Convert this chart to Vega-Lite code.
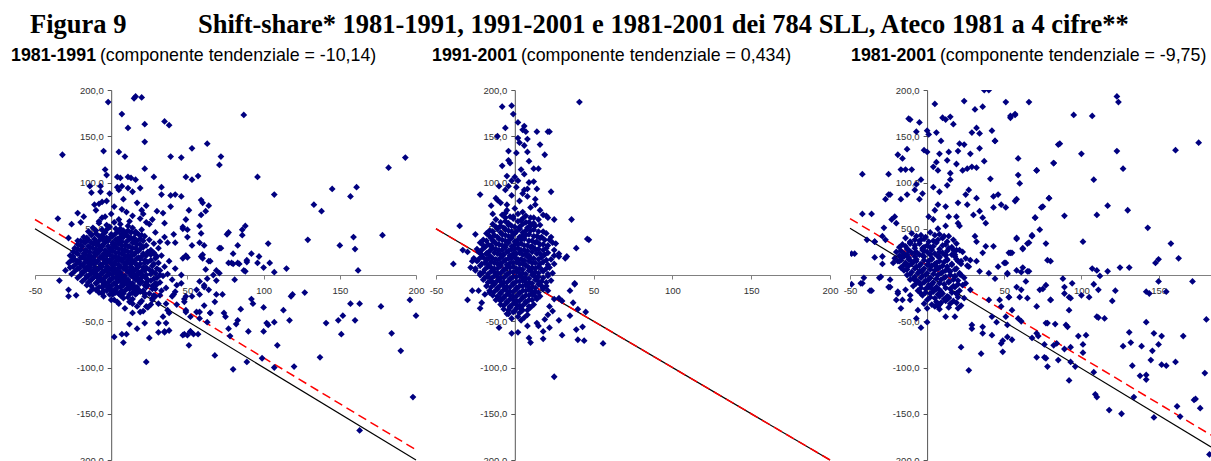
{
  "$schema": "https://vega.github.io/schema/vega-lite/v6.json",
  "background": "white",
  "padding": {"left": 11, "top": 11, "right": 0, "bottom": 0},
  "title": {
    "text": "Figura 9\u2003\u2003\u2002\u2009Shift-share* 1981-1991, 1991-2001 e 1981-2001 dei 784 SLL, Ateco 1981 a 4 cifre**",
    "anchor": "start",
    "frame": "group",
    "dx": -5,
    "font": "Liberation Serif",
    "fontSize": 26.5,
    "fontWeight": "bold",
    "color": "black",
    "offset": 9
  },
  "bounds": "flush",
  "spacing": 20,
  "config": {
    "view": {"stroke": null},
    "axis": {"labelFont": "Liberation Sans", "labelFontSize": 9.5, "labelColor": "#333333", "tickSize": 4, "grid": false, "labelOverlap": false, "labelFlush": false},
    "axisX": {"domainColor": "#808080", "tickColor": "#808080", "labelPadding": 6},
    "axisY": {"domainColor": "#555555", "tickColor": "#555555", "labelPadding": 4},
    "title": {"font": "Liberation Sans", "fontSize": 17.8, "fontWeight": "bold", "color": "black", "subtitleFont": "Liberation Sans", "subtitleFontSize": 17.8, "subtitleFontWeight": "normal", "subtitleColor": "black", "subtitlePadding": -17.8}
  },
  "datasets": {
    "lines1": [
      {"x": -50, "y": 50, "s": "fit"}, {"x": 200, "y": -200, "s": "fit"},
      {"x": -50, "y": 60, "s": "trend"}, {"x": 200, "y": -189, "s": "trend"}
    ],
    "lines2": [
      {"x": -50, "y": 50, "s": "fit"}, {"x": 200, "y": -200, "s": "fit"},
      {"x": -50, "y": 50, "s": "trend"}, {"x": 200, "y": -200, "s": "trend"}
    ],
    "lines3": [
      {"x": -50, "y": 50.5, "s": "fit"}, {"x": 184, "y": -186, "s": "fit"},
      {"x": -50, "y": 61, "s": "trend"}, {"x": 184, "y": -173, "s": "trend"}
    ],
    "p1": [
      {"x":-32,"y":130},{"x":-2,"y":187},{"x":16,"y":193},{"x":20,"y":192},{"x":15,"y":191},{"x":7,"y":174},{"x":22,"y":163},{"x":11,"y":159},{"x":35,"y":166},{"x":38,"y":162},
      {"x":87,"y":173},{"x":-5,"y":134},{"x":5,"y":133},{"x":9,"y":128},{"x":22,"y":144},{"x":63,"y":142},{"x":53,"y":137},{"x":39,"y":128},{"x":46,"y":127},{"x":72,"y":128},
      {"x":71,"y":119},{"x":22,"y":115},{"x":-4,"y":114},{"x":-3,"y":108},{"x":28,"y":106},{"x":49,"y":106},{"x":53,"y":103},{"x":57,"y":107},{"x":96,"y":106},{"x":193,"y":127},
      {"x":182,"y":116},{"x":161,"y":95},{"x":145,"y":93},{"x":157,"y":85},{"x":107,"y":87},{"x":133,"y":76},{"x":138,"y":69},{"x":129,"y":38},{"x":150,"y":32},{"x":159,"y":41},
      {"x":160,"y":28},{"x":178,"y":43},{"x":162,"y":5},{"x":115,"y":7},{"x":107,"y":3},{"x":104,"y":13},{"x":103,"y":34},{"x":100,"y":8},{"x":96,"y":13},{"x":97,"y":20},
      {"x":92,"y":23},{"x":89,"y":14},{"x":88,"y":4},{"x":88,"y":53},{"x":86,"y":49},{"x":86,"y":43},{"x":83,"y":32},{"x":80,"y":23},{"x":79,"y":13},{"x":83,"y":13},
      {"x":77,"y":46},{"x":76,"y":44},{"x":71,"y":29},{"x":72,"y":29},{"x":65,"y":15},{"x":60,"y":22},{"x":61,"y":32},{"x":58,"y":35},{"x":59,"y":45},{"x":58,"y":53},
      {"x":62,"y":69},{"x":64,"y":75},{"x":59,"y":81},{"x":60,"y":78},{"x":59,"y":65},{"x":51,"y":70},{"x":53,"y":32},{"x":49,"y":21},{"x":50,"y":41},{"x":50,"y":49},
      {"x":47,"y":52},{"x":47,"y":50},{"x":49,"y":60},{"x":46,"y":85},{"x":42,"y":87},{"x":39,"y":86},{"x":33,"y":87},{"x":33,"y":95},{"x":39,"y":74},{"x":34,"y":67},
      {"x":30,"y":69},{"x":35,"y":56},{"x":29,"y":46},{"x":41,"y":44},{"x":42,"y":35},{"x":37,"y":35},{"x":35,"y":41},{"x":32,"y":36},{"x":28,"y":23},{"x":27,"y":60},
      {"x":23,"y":75},{"x":23,"y":57},{"x":19,"y":61},{"x":20,"y":70},{"x":19,"y":94},{"x":16,"y":103},{"x":13,"y":105},{"x":11,"y":106},{"x":6,"y":105},{"x":4,"y":106},
      {"x":7,"y":96},{"x":5,"y":92},{"x":11,"y":94},{"x":14,"y":90},{"x":-7,"y":96},{"x":-7,"y":90},{"x":-14,"y":96},{"x":-13,"y":89},{"x":-11,"y":76},{"x":-6,"y":79},
      {"x":-8,"y":77},{"x":-18,"y":63},{"x":-22,"y":67},{"x":-20,"y":57},{"x":-26,"y":55},{"x":-35,"y":61},{"x":-28,"y":40},{"x":-25,"y":16},{"x":-22,"y":37},
      {"x":-34,"y":-6},{"x":-28,"y":-16},{"x":-28,"y":-23},{"x":-23,"y":-22},{"x":-14,"y":-18},{"x":2,"y":-67},{"x":8,"y":-73},{"x":7,"y":-64},{"x":10,"y":-64},{"x":23,"y":-94},
      {"x":25,"y":-68},{"x":31,"y":-62},{"x":35,"y":-62},{"x":38,"y":-60},{"x":47,"y":-65},{"x":51,"y":-76},{"x":52,"y":-61},{"x":54,"y":-64},{"x":57,"y":-64},{"x":68,"y":-87},
      {"x":80,"y":-102},{"x":89,"y":-94},{"x":99,"y":-90},{"x":107,"y":-100},{"x":120,"y":-99},{"x":137,"y":-89},{"x":109,"y":-76},{"x":100,"y":-61},{"x":90,"y":-61},{"x":78,"y":-66},
      {"x":77,"y":-58},{"x":75,"y":-45},{"x":74,"y":-41},{"x":65,"y":-41},{"x":63,"y":-51},{"x":58,"y":-40},{"x":49,"y":-40},{"x":82,"y":-53},{"x":83,"y":-49},{"x":85,"y":-37},
      {"x":92,"y":-26},{"x":93,"y":-31},{"x":100,"y":-35},{"x":102,"y":-52},{"x":103,"y":-54},{"x":107,"y":-51},{"x":113,"y":-38},{"x":117,"y":-49},{"x":118,"y":-23},{"x":119,"y":-21},
      {"x":127,"y":-19},{"x":141,"y":-52},{"x":149,"y":-49},{"x":152,"y":-44},{"x":151,"y":-64},{"x":157,"y":-31},{"x":160,"y":-49},{"x":163,"y":-31},{"x":163,"y":-168},{"x":177,"y":-34},
      {"x":184,"y":-63},{"x":190,"y":-82},{"x":196,"y":-27},{"x":200,"y":-44},{"x":198,"y":-132},
      {"x":58,"y":-7},{"x":63,"y":-4},{"x":61,"y":-11},{"x":69,"y":-21},{"x":73,"y":-21},{"x":68,"y":-29},{"x":58,"y":-21},{"x":53,"y":-23},{"x":56,"y":-16},{"x":48,"y":-29},
      {"x":49,"y":-23},{"x":42,"y":-18},{"x":40,"y":-23},{"x":43,"y":-32},{"x":49,"y":-38},{"x":36,"y":-31},{"x":32,"y":-22},{"x":77,"y":13},{"x":80,"y":12},{"x":84,"y":12},
      {"x":87,"y":5},{"x":89,"y":16},{"x":81,"y":-5},{"x":71,"y":2},{"x":69,"y":5},{"x":62,"y":6},{"x":64,"y":15},{"x":59,"y":20},{"x":60,"y":18},{"x":50,"y":19},{"x":47,"y":18},
      {"x":0,"y":-27},{"x":4,"y":-29},{"x":14,"y":-31},{"x":12,"y":-53},{"x":17,"y":-58},{"x":31,"y":-52},{"x":35,"y":-61},{"x":36,"y":-52},{"x":34,"y":-45},{"x":22,"y":-52},
      {"x":19,"y":-40},{"x":23,"y":-34},{"x":27,"y":-27},{"x":29,"y":-23},{"x":31,"y":-31},{"x":37,"y":-38},{"x":38,"y":-41},{"x":41,"y":-21},{"x":48,"y":-26},{"x":52,"y":-45},
      {"x":56,"y":-40},{"x":58,"y":-47},{"x":65,"y":-41},{"x":61,"y":-33},{"x":61,"y":-13},{"x":64,"y":-16},{"x":67,"y":0},{"x":69,"y":-6},{"x":46,"y":0},{"x":46,"y":-9},{"x":43,"y":-11},
      {"x":52,"y":-61},{"x":48,"y":-64},{"x":50,"y":-65},
      {"x":-8,"y":56},{"x":-3,"y":54},{"x":2,"y":57},{"x":6,"y":55},{"x":11,"y":53},
      {"x":-12,"y":51},{"x":-6,"y":49},{"x":-1,"y":52},{"x":3,"y":50},{"x":8,"y":48},{"x":14,"y":51},{"x":20,"y":49},
      {"x":-15,"y":47},{"x":-10,"y":45},{"x":-4,"y":46},{"x":0,"y":44},{"x":5,"y":47},{"x":9,"y":45},{"x":13,"y":46},{"x":18,"y":44},
      {"x":-18,"y":41},{"x":-13,"y":43},{"x":-8,"y":42},{"x":-3,"y":40},{"x":1,"y":42},{"x":6,"y":41},{"x":10,"y":43},{"x":15,"y":40},{"x":22,"y":42},
      {"x":-20,"y":37},{"x":-15,"y":38},{"x":-10,"y":36},{"x":-6,"y":39},{"x":-2,"y":37},{"x":3,"y":38},{"x":7,"y":36},{"x":12,"y":39},{"x":17,"y":37},{"x":25,"y":38},
      {"x":-22,"y":33},{"x":-17,"y":35},{"x":-12,"y":34},{"x":-8,"y":32},{"x":-4,"y":35},{"x":1,"y":33},{"x":5,"y":34},{"x":9,"y":32},{"x":14,"y":35},{"x":19,"y":33},{"x":28,"y":34},
      {"x":-24,"y":29},{"x":-19,"y":31},{"x":-14,"y":30},{"x":-10,"y":28},{"x":-6,"y":31},{"x":-1,"y":29},{"x":3,"y":30},{"x":7,"y":28},{"x":11,"y":31},{"x":16,"y":29},{"x":21,"y":30},{"x":31,"y":29},
      {"x":-25,"y":25},{"x":-20,"y":27},{"x":-16,"y":26},{"x":-11,"y":24},{"x":-7,"y":27},{"x":-3,"y":25},{"x":1,"y":26},{"x":5,"y":24},{"x":9,"y":27},{"x":13,"y":25},{"x":18,"y":26},{"x":24,"y":25},
      {"x":-27,"y":21},{"x":-22,"y":23},{"x":-17,"y":22},{"x":-13,"y":20},{"x":-9,"y":23},{"x":-5,"y":21},{"x":-1,"y":22},{"x":3,"y":20},{"x":7,"y":23},{"x":11,"y":21},{"x":15,"y":22},{"x":20,"y":20},{"x":26,"y":22},{"x":33,"y":21},
      {"x":-24,"y":17},{"x":-19,"y":19},{"x":-15,"y":18},{"x":-11,"y":16},{"x":-7,"y":19},{"x":-3,"y":17},{"x":1,"y":18},{"x":5,"y":16},{"x":9,"y":19},{"x":13,"y":17},{"x":17,"y":18},{"x":22,"y":16},{"x":29,"y":18},
      {"x":-28,"y":13},{"x":-22,"y":15},{"x":-17,"y":14},{"x":-13,"y":12},{"x":-9,"y":15},{"x":-5,"y":13},{"x":-1,"y":14},{"x":3,"y":12},{"x":7,"y":15},{"x":11,"y":13},{"x":15,"y":14},{"x":19,"y":12},{"x":24,"y":14},{"x":31,"y":13},{"x":38,"y":15},
      {"x":-25,"y":9},{"x":-20,"y":11},{"x":-15,"y":10},{"x":-11,"y":8},{"x":-7,"y":11},{"x":-3,"y":9},{"x":1,"y":10},{"x":5,"y":8},{"x":9,"y":11},{"x":13,"y":9},{"x":17,"y":10},{"x":21,"y":8},{"x":27,"y":10},{"x":35,"y":9},
      {"x":-30,"y":5},{"x":-21,"y":7},{"x":-16,"y":6},{"x":-12,"y":4},{"x":-8,"y":7},{"x":-4,"y":5},{"x":0,"y":6},{"x":4,"y":4},{"x":8,"y":7},{"x":12,"y":5},{"x":16,"y":6},{"x":20,"y":4},{"x":25,"y":6},{"x":32,"y":5},{"x":42,"y":7},
      {"x":-26,"y":1},{"x":-18,"y":3},{"x":-13,"y":2},{"x":-9,"y":0},{"x":-5,"y":3},{"x":-1,"y":1},{"x":3,"y":2},{"x":7,"y":0},{"x":11,"y":3},{"x":15,"y":1},{"x":19,"y":2},{"x":23,"y":0},{"x":29,"y":2},{"x":37,"y":1},
      {"x":-22,"y":-3},{"x":-15,"y":-1},{"x":-11,"y":-2},{"x":-7,"y":-4},{"x":-3,"y":-1},{"x":1,"y":-3},{"x":5,"y":-2},{"x":9,"y":-4},{"x":13,"y":-1},{"x":17,"y":-3},{"x":22,"y":-2},{"x":28,"y":-4},{"x":34,"y":-1},
      {"x":-19,"y":-7},{"x":-13,"y":-5},{"x":-8,"y":-6},{"x":-4,"y":-8},{"x":0,"y":-5},{"x":4,"y":-7},{"x":8,"y":-6},{"x":12,"y":-8},{"x":16,"y":-5},{"x":20,"y":-7},{"x":26,"y":-6},{"x":32,"y":-8},{"x":40,"y":-5},
      {"x":-16,"y":-11},{"x":-10,"y":-9},{"x":-5,"y":-10},{"x":-1,"y":-12},{"x":3,"y":-9},{"x":7,"y":-11},{"x":11,"y":-10},{"x":15,"y":-12},{"x":19,"y":-9},{"x":24,"y":-11},{"x":30,"y":-10},
      {"x":-12,"y":-15},{"x":-6,"y":-13},{"x":-2,"y":-14},{"x":2,"y":-16},{"x":6,"y":-13},{"x":10,"y":-15},{"x":14,"y":-14},{"x":18,"y":-16},{"x":23,"y":-13},{"x":29,"y":-15},{"x":36,"y":-14},
      {"x":-8,"y":-19},{"x":-3,"y":-17},{"x":1,"y":-18},{"x":5,"y":-20},{"x":9,"y":-17},{"x":14,"y":-19},{"x":19,"y":-18},{"x":25,"y":-20},{"x":33,"y":-17},
      {"x":-5,"y":-23},{"x":1,"y":-21},{"x":6,"y":-22},{"x":11,"y":-24},{"x":16,"y":-21},{"x":22,"y":-23},{"x":28,"y":-22},
      {"x":2,"y":-27},{"x":8,"y":-25},{"x":14,"y":-26},{"x":20,"y":-28},{"x":27,"y":-25},
      {"x":5,"y":-31},{"x":12,"y":-29},{"x":19,"y":-30},{"x":26,"y":-32},
      {"x":9,"y":-36},{"x":17,"y":-34},{"x":24,"y":-35},{"x":14,"y":-41},{"x":21,"y":-39},
      {"x":-6,"y":62},{"x":0,"y":66},{"x":5,"y":60},{"x":10,"y":68},{"x":-10,"y":70},{"x":2,"y":74},{"x":14,"y":64},{"x":-3,"y":80},{"x":8,"y":82},{"x":17,"y":78},
      {"x":-8,"y":58},{"x":12,"y":58},{"x":21,"y":66},{"x":25,"y":55},{"x":-1,"y":88},{"x":4,"y":95},{"x":-4,"y":63},{"x":7,"y":71},
      {"x":-10,"y":48},{"x":-3,"y":49},{"x":6,"y":50},{"x":11,"y":48},{"x":16,"y":47},
      {"x":-13,"y":44},{"x":-6,"y":43},{"x":3,"y":45},{"x":7,"y":44},{"x":11,"y":42},{"x":16,"y":45},{"x":20,"y":43},
      {"x":-16,"y":40},{"x":-11,"y":39},{"x":-5,"y":41},{"x":-1,"y":40},{"x":4,"y":39},{"x":8,"y":41},{"x":13,"y":40},{"x":19,"y":39},
      {"x":-18,"y":36},{"x":-13,"y":35},{"x":-8,"y":37},{"x":-4,"y":36},{"x":1,"y":35},{"x":5,"y":37},{"x":10,"y":36},{"x":15,"y":35},{"x":21,"y":37},
      {"x":-20,"y":32},{"x":-15,"y":31},{"x":-10,"y":33},{"x":-6,"y":32},{"x":-2,"y":31},{"x":3,"y":33},{"x":7,"y":32},{"x":12,"y":31},{"x":17,"y":33},{"x":23,"y":32},
      {"x":-22,"y":28},{"x":-17,"y":27},{"x":-12,"y":29},{"x":-8,"y":28},{"x":-4,"y":27},{"x":1,"y":29},{"x":5,"y":28},{"x":9,"y":27},{"x":14,"y":29},{"x":19,"y":28},{"x":26,"y":27},
      {"x":-23,"y":24},{"x":-18,"y":23},{"x":-14,"y":25},{"x":-9,"y":24},{"x":-5,"y":23},{"x":-1,"y":25},{"x":3,"y":24},{"x":7,"y":23},{"x":11,"y":25},{"x":16,"y":24},{"x":21,"y":23},{"x":28,"y":24},
      {"x":-25,"y":20},{"x":-20,"y":19},{"x":-15,"y":21},{"x":-11,"y":20},{"x":-7,"y":19},{"x":-3,"y":21},{"x":1,"y":20},{"x":5,"y":19},{"x":9,"y":21},{"x":13,"y":20},{"x":18,"y":19},{"x":23,"y":21},{"x":30,"y":20},
      {"x":-26,"y":16},{"x":-21,"y":15},{"x":-17,"y":17},{"x":-13,"y":16},{"x":-9,"y":15},{"x":-5,"y":17},{"x":-1,"y":16},{"x":3,"y":15},{"x":7,"y":17},{"x":11,"y":16},{"x":15,"y":15},{"x":19,"y":17},{"x":26,"y":16},
      {"x":-23,"y":12},{"x":-19,"y":11},{"x":-15,"y":13},{"x":-11,"y":12},{"x":-7,"y":11},{"x":-3,"y":13},{"x":1,"y":12},{"x":5,"y":11},{"x":9,"y":13},{"x":13,"y":12},{"x":17,"y":11},{"x":22,"y":13},{"x":28,"y":12},
      {"x":-27,"y":8},{"x":-22,"y":7},{"x":-18,"y":9},{"x":-14,"y":8},{"x":-10,"y":7},{"x":-6,"y":9},{"x":-2,"y":8},{"x":2,"y":7},{"x":6,"y":9},{"x":10,"y":8},{"x":14,"y":7},{"x":18,"y":9},{"x":23,"y":8},{"x":30,"y":7},
      {"x":-24,"y":4},{"x":-19,"y":3},{"x":-14,"y":5},{"x":-10,"y":4},{"x":-6,"y":3},{"x":-2,"y":5},{"x":2,"y":4},{"x":6,"y":3},{"x":10,"y":5},{"x":14,"y":4},{"x":18,"y":3},{"x":22,"y":5},{"x":27,"y":4},
      {"x":-20,"y":0},{"x":-16,"y":-1},{"x":-11,"y":1},{"x":-7,"y":0},{"x":-3,"y":-1},{"x":1,"y":1},{"x":5,"y":0},{"x":9,"y":-1},{"x":13,"y":1},{"x":17,"y":0},{"x":21,"y":-1},{"x":26,"y":1},{"x":32,"y":0},
      {"x":-17,"y":-4},{"x":-13,"y":-5},{"x":-9,"y":-3},{"x":-5,"y":-4},{"x":-1,"y":-5},{"x":3,"y":-3},{"x":7,"y":-4},{"x":11,"y":-5},{"x":15,"y":-3},{"x":19,"y":-4},{"x":24,"y":-5},{"x":30,"y":-3},
      {"x":-15,"y":-8},{"x":-10,"y":-9},{"x":-6,"y":-7},{"x":-2,"y":-8},{"x":2,"y":-9},{"x":6,"y":-7},{"x":10,"y":-8},{"x":14,"y":-9},{"x":18,"y":-7},{"x":23,"y":-8},{"x":29,"y":-9},
      {"x":-13,"y":-12},{"x":-8,"y":-13},{"x":-4,"y":-11},{"x":0,"y":-12},{"x":4,"y":-13},{"x":8,"y":-11},{"x":12,"y":-12},{"x":17,"y":-13},{"x":22,"y":-11},{"x":27,"y":-12},
      {"x":-10,"y":-16},{"x":-5,"y":-17},{"x":-1,"y":-15},{"x":3,"y":-16},{"x":7,"y":-17},{"x":12,"y":-15},{"x":16,"y":-16},{"x":21,"y":-17},{"x":27,"y":-15},
      {"x":-6,"y":-20},{"x":-1,"y":-21},{"x":3,"y":-19},{"x":8,"y":-20},{"x":12,"y":-21},{"x":17,"y":-19},{"x":22,"y":-20}
    ],
    "p2": [
      {"x":41,"y":187},{"x":-8,"y":182},{"x":-2,"y":183},{"x":-1,"y":174},{"x":2,"y":165},{"x":6,"y":161},{"x":5,"y":157},{"x":7,"y":155},{"x":8,"y":147},{"x":14,"y":155},
      {"x":21,"y":155},{"x":22,"y":155},{"x":-11,"y":150},{"x":-6,"y":159},{"x":2,"y":148},{"x":3,"y":143},{"x":1,"y":132},{"x":-4,"y":134},{"x":-4,"y":124},{"x":-3,"y":121},
      {"x":-8,"y":118},{"x":6,"y":140},{"x":8,"y":133},{"x":16,"y":141},{"x":19,"y":130},{"x":9,"y":123},{"x":12,"y":115},{"x":15,"y":115},{"x":4,"y":114},{"x":6,"y":109},
      {"x":0,"y":106},{"x":2,"y":102},{"x":-2,"y":102},{"x":-5,"y":107},{"x":-10,"y":96},{"x":-4,"y":96},{"x":9,"y":100},{"x":12,"y":101},{"x":14,"y":93},{"x":23,"y":90},
      {"x":8,"y":93},{"x":5,"y":88},{"x":-22,"y":87},{"x":-15,"y":75},{"x":-12,"y":83},{"x":-11,"y":81},{"x":-6,"y":67},{"x":-5,"y":76},{"x":13,"y":76},{"x":18,"y":65},
      {"x":21,"y":62},{"x":25,"y":60},{"x":36,"y":60},{"x":47,"y":38},{"x":39,"y":29},{"x":32,"y":18},{"x":28,"y":20},{"x":25,"y":27},{"x":24,"y":35},{"x":23,"y":41},
      {"x":-35,"y":53},{"x":-25,"y":44},{"x":-33,"y":27},{"x":-30,"y":25},{"x":-27,"y":15},{"x":-39,"y":12},{"x":-15,"y":32},{"x":-14,"y":37},{"x":-18,"y":23},{"x":-20,"y":19},
      {"x":38,"y":-9},{"x":35,"y":-17},
      {"x":-30,"y":-27},{"x":-27,"y":-17},{"x":-22,"y":-36},{"x":-21,"y":-30},{"x":-19,"y":-21},{"x":-23,"y":-17},{"x":-16,"y":-19},{"x":-14,"y":-8},{"x":-10,"y":-57},{"x":-9,"y":-26},
      {"x":-3,"y":-35},{"x":-4,"y":-42},{"x":-2,"y":-63},{"x":2,"y":-62},{"x":4,"y":-49},{"x":8,"y":-55},{"x":9,"y":-68},{"x":10,"y":-73},{"x":14,"y":-52},{"x":15,"y":-55},
      {"x":18,"y":-61},{"x":19,"y":-48},{"x":21,"y":-43},{"x":18,"y":-69},{"x":22,"y":-57},{"x":24,"y":-39},{"x":22,"y":-34},{"x":25,"y":-26},{"x":18,"y":-14},{"x":21,"y":-17},
      {"x":28,"y":-49},{"x":30,"y":-65},{"x":25,"y":-110},{"x":35,"y":-44},{"x":37,"y":-30},{"x":40,"y":-37},{"x":39,"y":-59},{"x":40,"y":-70},{"x":43,"y":-56},{"x":44,"y":-71},
      {"x":45,"y":-40},{"x":56,"y":-74},{"x":38,"y":-10},{"x":30,"y":-28},{"x":28,"y":-25},{"x":33,"y":20},{"x":46,"y":39},
      {"x":-8,"y":65},{"x":-3,"y":63},{"x":2,"y":66},{"x":7,"y":64},{"x":12,"y":62},
      {"x":-12,"y":60},{"x":-6,"y":58},{"x":-1,"y":61},{"x":4,"y":59},{"x":9,"y":57},{"x":15,"y":60},
      {"x":-14,"y":55},{"x":-9,"y":53},{"x":-4,"y":54},{"x":0,"y":52},{"x":5,"y":55},{"x":10,"y":53},{"x":16,"y":54},
      {"x":-16,"y":48},{"x":-11,"y":50},{"x":-6,"y":49},{"x":-2,"y":47},{"x":3,"y":50},{"x":7,"y":48},{"x":12,"y":49},{"x":18,"y":47},
      {"x":-18,"y":45},{"x":-13,"y":43},{"x":-8,"y":44},{"x":-4,"y":42},{"x":0,"y":45},{"x":5,"y":43},{"x":9,"y":44},{"x":14,"y":42},{"x":20,"y":45},
      {"x":-20,"y":38},{"x":-15,"y":40},{"x":-10,"y":39},{"x":-6,"y":37},{"x":-2,"y":40},{"x":2,"y":38},{"x":6,"y":39},{"x":11,"y":37},{"x":16,"y":40},{"x":22,"y":38},
      {"x":-22,"y":35},{"x":-17,"y":33},{"x":-12,"y":34},{"x":-8,"y":32},{"x":-4,"y":35},{"x":0,"y":33},{"x":4,"y":34},{"x":8,"y":32},{"x":13,"y":35},{"x":18,"y":33},{"x":26,"y":34},
      {"x":-24,"y":28},{"x":-19,"y":30},{"x":-14,"y":29},{"x":-10,"y":27},{"x":-6,"y":30},{"x":-2,"y":28},{"x":2,"y":29},{"x":6,"y":27},{"x":10,"y":30},{"x":15,"y":28},{"x":20,"y":29},
      {"x":-23,"y":25},{"x":-18,"y":23},{"x":-13,"y":24},{"x":-9,"y":22},{"x":-5,"y":25},{"x":-1,"y":23},{"x":3,"y":24},{"x":7,"y":22},{"x":11,"y":25},{"x":16,"y":23},{"x":21,"y":24},{"x":28,"y":23},
      {"x":-26,"y":18},{"x":-21,"y":20},{"x":-16,"y":19},{"x":-12,"y":17},{"x":-8,"y":20},{"x":-4,"y":18},{"x":0,"y":19},{"x":4,"y":17},{"x":8,"y":20},{"x":12,"y":18},{"x":17,"y":19},{"x":23,"y":17},
      {"x":-24,"y":15},{"x":-19,"y":13},{"x":-15,"y":14},{"x":-11,"y":12},{"x":-7,"y":15},{"x":-3,"y":13},{"x":1,"y":14},{"x":5,"y":12},{"x":9,"y":15},{"x":13,"y":13},{"x":18,"y":14},{"x":25,"y":12},
      {"x":-28,"y":8},{"x":-22,"y":10},{"x":-17,"y":9},{"x":-13,"y":7},{"x":-9,"y":10},{"x":-5,"y":8},{"x":-1,"y":9},{"x":3,"y":7},{"x":7,"y":10},{"x":11,"y":8},{"x":15,"y":9},{"x":20,"y":7},
      {"x":-25,"y":5},{"x":-20,"y":3},{"x":-15,"y":4},{"x":-11,"y":2},{"x":-7,"y":5},{"x":-3,"y":3},{"x":1,"y":4},{"x":5,"y":2},{"x":9,"y":5},{"x":13,"y":3},{"x":18,"y":4},{"x":24,"y":2},
      {"x":-22,"y":0},{"x":-17,"y":-2},{"x":-13,"y":-1},{"x":-9,"y":-3},{"x":-5,"y":0},{"x":-1,"y":-2},{"x":3,"y":-1},{"x":7,"y":-3},{"x":11,"y":0},{"x":15,"y":-2},{"x":21,"y":-1},
      {"x":-20,"y":-5},{"x":-15,"y":-7},{"x":-11,"y":-6},{"x":-7,"y":-8},{"x":-3,"y":-5},{"x":1,"y":-7},{"x":5,"y":-6},{"x":9,"y":-8},{"x":13,"y":-5},{"x":17,"y":-7},{"x":23,"y":-6},
      {"x":-18,"y":-12},{"x":-13,"y":-10},{"x":-9,"y":-11},{"x":-5,"y":-13},{"x":-1,"y":-10},{"x":3,"y":-12},{"x":7,"y":-11},{"x":11,"y":-13},{"x":15,"y":-10},{"x":20,"y":-12},
      {"x":-16,"y":-17},{"x":-11,"y":-15},{"x":-7,"y":-16},{"x":-3,"y":-18},{"x":1,"y":-15},{"x":5,"y":-17},{"x":9,"y":-16},{"x":13,"y":-18},{"x":18,"y":-15},
      {"x":-14,"y":-22},{"x":-9,"y":-20},{"x":-5,"y":-21},{"x":-1,"y":-23},{"x":3,"y":-20},{"x":7,"y":-22},{"x":11,"y":-21},{"x":16,"y":-23},
      {"x":-12,"y":-27},{"x":-7,"y":-25},{"x":-3,"y":-26},{"x":1,"y":-28},{"x":5,"y":-25},{"x":9,"y":-27},{"x":14,"y":-26},
      {"x":-9,"y":-32},{"x":-5,"y":-30},{"x":-1,"y":-31},{"x":3,"y":-33},{"x":7,"y":-30},{"x":12,"y":-32},
      {"x":-7,"y":-37},{"x":-3,"y":-35},{"x":1,"y":-36},{"x":5,"y":-38},{"x":10,"y":-35},
      {"x":-5,"y":-42},{"x":-1,"y":-40},{"x":3,"y":-41},{"x":8,"y":-43},{"x":-2,"y":-47},{"x":2,"y":-45},{"x":6,"y":-46},
      {"x":-5,"y":70},{"x":0,"y":72},{"x":5,"y":68},{"x":10,"y":73},{"x":-9,"y":78},{"x":3,"y":80},{"x":8,"y":85},{"x":-2,"y":86},{"x":13,"y":82},{"x":-6,"y":92},
      {"x":1,"y":95},{"x":6,"y":92},{"x":16,"y":70},{"x":-14,"y":66},{"x":20,"y":64},
      {"x":-6,"y":62},{"x":-1,"y":63},{"x":5,"y":61},{"x":10,"y":62},
      {"x":-9,"y":57},{"x":-4,"y":56},{"x":2,"y":58},{"x":7,"y":57},{"x":12,"y":56},
      {"x":-12,"y":52},{"x":-7,"y":51},{"x":-2,"y":53},{"x":3,"y":52},{"x":8,"y":51},{"x":13,"y":53},
      {"x":-14,"y":47},{"x":-9,"y":46},{"x":-4,"y":48},{"x":1,"y":47},{"x":5,"y":46},{"x":10,"y":48},{"x":15,"y":47},
      {"x":-16,"y":42},{"x":-11,"y":41},{"x":-6,"y":43},{"x":-2,"y":42},{"x":3,"y":41},{"x":7,"y":43},{"x":12,"y":42},{"x":17,"y":41},
      {"x":-18,"y":37},{"x":-13,"y":36},{"x":-8,"y":38},{"x":-4,"y":37},{"x":0,"y":36},{"x":4,"y":38},{"x":9,"y":37},{"x":14,"y":36},{"x":19,"y":38},
      {"x":-20,"y":32},{"x":-15,"y":31},{"x":-10,"y":33},{"x":-6,"y":32},{"x":-2,"y":31},{"x":2,"y":33},{"x":6,"y":32},{"x":11,"y":31},{"x":16,"y":33},{"x":21,"y":32},
      {"x":-21,"y":27},{"x":-16,"y":26},{"x":-12,"y":28},{"x":-8,"y":27},{"x":-4,"y":26},{"x":0,"y":28},{"x":4,"y":27},{"x":8,"y":26},{"x":13,"y":28},{"x":18,"y":27},
      {"x":-21,"y":22},{"x":-16,"y":21},{"x":-11,"y":23},{"x":-7,"y":22},{"x":-3,"y":21},{"x":1,"y":23},{"x":5,"y":22},{"x":9,"y":21},{"x":14,"y":23},{"x":19,"y":22},{"x":25,"y":21},
      {"x":-23,"y":17},{"x":-18,"y":16},{"x":-14,"y":18},{"x":-10,"y":17},{"x":-6,"y":16},{"x":-2,"y":18},{"x":2,"y":17},{"x":6,"y":16},{"x":10,"y":18},{"x":15,"y":17},{"x":20,"y":16},
      {"x":-21,"y":12},{"x":-17,"y":11},{"x":-13,"y":13},{"x":-9,"y":12},{"x":-5,"y":11},{"x":-1,"y":13},{"x":3,"y":12},{"x":7,"y":11},{"x":11,"y":13},{"x":16,"y":12},{"x":21,"y":11},
      {"x":-25,"y":7},{"x":-19,"y":6},{"x":-15,"y":8},{"x":-11,"y":7},{"x":-7,"y":6},{"x":-3,"y":8},{"x":1,"y":7},{"x":5,"y":6},{"x":9,"y":8},{"x":13,"y":7},{"x":17,"y":6},{"x":22,"y":8},
      {"x":-22,"y":2},{"x":-17,"y":1},{"x":-13,"y":3},{"x":-9,"y":2},{"x":-5,"y":1},{"x":-1,"y":3},{"x":3,"y":2},{"x":7,"y":1},{"x":11,"y":3},{"x":15,"y":2},{"x":21,"y":1},
      {"x":-19,"y":-3},{"x":-15,"y":-4},{"x":-11,"y":-2},{"x":-7,"y":-3},{"x":-3,"y":-4},{"x":1,"y":-2},{"x":5,"y":-3},{"x":9,"y":-4},{"x":13,"y":-2},{"x":18,"y":-3},
      {"x":-17,"y":-8},{"x":-13,"y":-9},{"x":-9,"y":-7},{"x":-5,"y":-8},{"x":-1,"y":-9},{"x":3,"y":-7},{"x":7,"y":-8},{"x":11,"y":-9},{"x":15,"y":-7},{"x":20,"y":-8},
      {"x":-15,"y":-13},{"x":-11,"y":-14},{"x":-7,"y":-12},{"x":-3,"y":-13},{"x":1,"y":-14},{"x":5,"y":-12},{"x":9,"y":-13},{"x":13,"y":-14},{"x":17,"y":-12},
      {"x":-13,"y":-18},{"x":-9,"y":-19},{"x":-5,"y":-17},{"x":-1,"y":-18},{"x":3,"y":-19},{"x":7,"y":-17},{"x":11,"y":-18},{"x":15,"y":-19},
      {"x":-11,"y":-23},{"x":-7,"y":-24},{"x":-3,"y":-22},{"x":1,"y":-23},{"x":5,"y":-24},{"x":9,"y":-22},{"x":13,"y":-23},
      {"x":-9,"y":-28},{"x":-5,"y":-29},{"x":-1,"y":-27},{"x":3,"y":-28},{"x":7,"y":-29},{"x":11,"y":-27},
      {"x":-7,"y":-33},{"x":-3,"y":-34},{"x":1,"y":-32},{"x":5,"y":-33},{"x":9,"y":-34},
      {"x":-4,"y":-38},{"x":0,"y":-39},{"x":4,"y":-37},{"x":8,"y":-38}
    ],
    "p3": [
      {"x":37,"y":200},{"x":40,"y":200},{"x":51,"y":187},{"x":66,"y":187},{"x":24,"y":188},{"x":5,"y":185},{"x":31,"y":179},{"x":36,"y":182},{"x":15,"y":171},{"x":10,"y":170},
      {"x":12,"y":168},{"x":17,"y":163},{"x":-11,"y":168},{"x":-5,"y":165},{"x":0,"y":156},{"x":-7,"y":155},{"x":1,"y":152},{"x":6,"y":154},{"x":32,"y":159},{"x":29,"y":154},
      {"x":34,"y":153},{"x":42,"y":156},{"x":44,"y":145},{"x":54,"y":172},{"x":57,"y":174},{"x":9,"y":145},{"x":21,"y":142},{"x":24,"y":141},{"x":28,"y":131},{"x":34,"y":137},
      {"x":20,"y":134},{"x":14,"y":133},{"x":8,"y":131},{"x":-2,"y":135},{"x":0,"y":133},{"x":-13,"y":136},{"x":-19,"y":130},{"x":-16,"y":126},{"x":37,"y":123},{"x":29,"y":117},
      {"x":19,"y":120},{"x":13,"y":124},{"x":6,"y":122},{"x":4,"y":117},{"x":7,"y":113},{"x":23,"y":113},{"x":26,"y":115},{"x":32,"y":116},{"x":-17,"y":114},{"x":-14,"y":114},
      {"x":-10,"y":114},{"x":-42,"y":109},{"x":-25,"y":109},{"x":59,"y":126},{"x":59,"y":108},{"x":71,"y":113},{"x":82,"y":121},{"x":85,"y":141},{"x":60,"y":99},{"x":41,"y":104},
      {"x":15,"y":110},{"x":15,"y":103},{"x":13,"y":97},{"x":8,"y":90},{"x":4,"y":95},{"x":-4,"y":103},{"x":-7,"y":98},{"x":-8,"y":92},{"x":-3,"y":88},{"x":-5,"y":82},
      {"x":-13,"y":87},{"x":-17,"y":82},{"x":-27,"y":82},{"x":-25,"y":87},{"x":-24,"y":87},{"x":27,"y":92},{"x":25,"y":87},{"x":26,"y":76},{"x":20,"y":78},{"x":32,"y":83},
      {"x":43,"y":85},{"x":46,"y":87},{"x":48,"y":76},{"x":43,"y":73},{"x":57,"y":80},{"x":74,"y":73},{"x":79,"y":83},{"x":70,"y":62},{"x":73,"y":49},{"x":68,"y":43},
      {"x":58,"y":39},{"x":62,"y":29},{"x":65,"y":34},{"x":77,"y":34},{"x":78,"y":16},{"x":80,"y":15},{"x":75,"y":-15},{"x":66,"y":4},{"x":55,"y":24},{"x":54,"y":24},
      {"x":50,"y":13},{"x":52,"y":2},{"x":38,"y":31},{"x":36,"y":24},{"x":43,"y":31},{"x":38,"y":56},{"x":36,"y":62},{"x":34,"y":69},{"x":30,"y":65},{"x":31,"y":42},
      {"x":32,"y":36},{"x":19,"y":63},{"x":20,"y":56},{"x":21,"y":53},{"x":14,"y":63},{"x":12,"y":53},{"x":7,"y":50},{"x":1,"y":63},{"x":4,"y":60},{"x":5,"y":70},
      {"x":7,"y":76},{"x":12,"y":74},{"x":-21,"y":63},{"x":-23,"y":60},{"x":-20,"y":56},{"x":-42,"y":66},{"x":-36,"y":66},{"x":-28,"y":51},{"x":-29,"y":42},{"x":-27,"y":38},
      {"x":-34,"y":36},{"x":-47,"y":23},{"x":-34,"y":19},{"x":-29,"y":20},{"x":-22,"y":13},{"x":-18,"y":15},{"x":-15,"y":20},{"x":-14,"y":11},{"x":-11,"y":16},{"x":-8,"y":24},
      {"x":-3,"y":29},{"x":-11,"y":34},{"x":-4,"y":38},{"x":-49,"y":-10},{"x":-42,"y":-9},{"x":-36,"y":-17},{"x":-30,"y":-2},{"x":-24,"y":-13},{"x":-19,"y":-18},{"x":-16,"y":-27},
      {"x":-11,"y":-22},{"x":-8,"y":-5},{"x":-4,"y":4},{"x":1,"y":11},{"x":6,"y":9},{"x":8,"y":20},{"x":12,"y":22},{"x":17,"y":27},{"x":20,"y":15},{"x":14,"y":5},
      {"x":18,"y":-2},{"x":22,"y":0},{"x":27,"y":9},{"x":28,"y":16},{"x":32,"y":15},{"x":34,"y":4},{"x":25,"y":-9},{"x":28,"y":-16},{"x":19,"y":-20},{"x":14,"y":-24},
      {"x":8,"y":-16},{"x":2,"y":-13},{"x":-4,"y":-20},{"x":-2,"y":-31},{"x":7,"y":-34},{"x":-5,"y":-9},{"x":40,"y":2},{"x":44,"y":-4},{"x":46,"y":9},{"x":58,"y":-13},
      {"x":61,"y":-16},{"x":64,"y":-7},{"x":73,"y":-16},{"x":80,"y":-27},{"x":77,"y":-11},{"x":40,"y":-27},{"x":47,"y":-27},{"x":53,"y":-24},
      {"x":-49,"y":23},{"x":-43,"y":-9},{"x":-41,"y":-3},{"x":-37,"y":-17},{"x":-39,"y":38},{"x":-34,"y":36},{"x":-31,"y":-3},{"x":-29,"y":12},{"x":-25,"y":-13},{"x":-24,"y":-5},
      {"x":-20,"y":-27},{"x":-17,"y":-36},{"x":-19,"y":-20},{"x":-14,"y":-16},{"x":-11,"y":-27},{"x":-6,"y":-38},{"x":-7,"y":-47},{"x":-4,"y":-57},{"x":0,"y":-51},{"x":0,"y":-36},
      {"x":5,"y":-34},{"x":8,"y":-32},{"x":12,"y":-45},{"x":18,"y":-45},{"x":22,"y":-78},{"x":27,"y":-103},{"x":29,"y":-54},{"x":29,"y":-58},{"x":35,"y":-85},{"x":36,"y":-63},
      {"x":36,"y":-56},{"x":42,"y":-65},{"x":42,"y":-45},{"x":45,"y":-51},{"x":48,"y":-34},{"x":48,"y":-74},{"x":49,"y":-83},{"x":49,"y":-71},{"x":52,"y":-67},{"x":52,"y":-54},
      {"x":55,"y":-70},{"x":51,"y":-45},{"x":55,"y":-38},{"x":53,"y":-24},{"x":59,"y":-47},{"x":61,"y":-50},{"x":60,"y":-24},{"x":65,"y":-25},{"x":68,"y":-68},{"x":71,"y":-34},
      {"x":71,"y":-63},{"x":72,"y":-66},{"x":71,"y":-89},{"x":76,"y":-89},{"x":77,"y":-90},{"x":78,"y":-99},{"x":77,"y":-52},{"x":78,"y":-52},{"x":76,"y":-75},{"x":80,"y":-27},
      {"x":83,"y":-53},{"x":84,"y":-74},{"x":82,"y":-76},{"x":85,"y":-92},{"x":88,"y":-4},{"x":89,"y":-13},{"x":89,"y":-20},{"x":92,"y":-24},{"x":93,"y":-25},{"x":92,"y":-38},
      {"x":90,"y":-54},{"x":91,"y":-56},{"x":89,"y":-80},{"x":93,"y":-78},{"x":93,"y":-94},{"x":92,"y":-114},{"x":96,"y":-99},{"x":94,"y":-9},{"x":98,"y":-66},{"x":101,"y":-75},
      {"x":101,"y":-84},{"x":103,"y":-65},{"x":100,"y":-22},{"x":105,"y":-24},{"x":108,"y":-10},{"x":107,"y":7},{"x":110,"y":5},{"x":111,"y":-16},{"x":112,"y":-1},{"x":110,"y":-45},
      {"x":111,"y":-46},{"x":115,"y":-47},{"x":108,"y":-105},{"x":109,"y":-129},{"x":110,"y":-132},{"x":118,"y":-146},{"x":120,"y":-28},{"x":122,"y":-17},{"x":117,"y":4},{"x":125,"y":8},
      {"x":131,"y":8},{"x":126,"y":-150},{"x":127,"y":-77},{"x":132,"y":-73},{"x":131,"y":-62},{"x":133,"y":-98},{"x":134,"y":-132},{"x":138,"y":-109},{"x":139,"y":-77},{"x":142,"y":-108},
      {"x":142,"y":-113},{"x":142,"y":-51},{"x":145,"y":-92},{"x":146,"y":-82},{"x":147,"y":-63},{"x":150,"y":-75},{"x":152,"y":-66},{"x":152,"y":-97},{"x":155,"y":-98},{"x":147,"y":-154},
      {"x":142,"y":-18},{"x":144,"y":-20},{"x":150,"y":-7},{"x":155,"y":-18},{"x":161,"y":-94},{"x":162,"y":-142},{"x":164,"y":-153},{"x":166,"y":-66},{"x":172,"y":-7},{"x":173,"y":-135},
      {"x":174,"y":-134},{"x":177,"y":-144},{"x":181,"y":-48},{"x":180,"y":-106},{"x":183,"y":-194},{"x":143,"y":51},{"x":158,"y":34},{"x":163,"y":18},{"x":150,"y":17},{"x":148,"y":13},
      {"x":130,"y":70},{"x":117,"y":75},{"x":110,"y":65},{"x":101,"y":36},{"x":89,"y":64},{"x":75,"y":74},{"x":70,"y":62},{"x":68,"y":42},{"x":66,"y":35},{"x":62,"y":28},
      {"x":58,"y":40},{"x":53,"y":24},{"x":51,"y":13},{"x":58,"y":5},{"x":62,"y":8},{"x":65,"y":4},{"x":61,"y":3},{"x":52,"y":1},{"x":51,"y":73},{"x":58,"y":82},
      {"x":95,"y":173},{"x":107,"y":172},{"x":123,"y":193},{"x":124,"y":187},{"x":86,"y":142},{"x":100,"y":131},{"x":123,"y":134},{"x":161,"y":135},{"x":176,"y":143},{"x":127,"y":115},
      {"x":108,"y":103},{"x":82,"y":121},{"x":71,"y":113},{"x":79,"y":83},{"x":-12,"y":169},{"x":54,"y":170},{"x":57,"y":173},{"x":44,"y":145},
      {"x":-10,"y":45},{"x":-4,"y":43},{"x":2,"y":46},{"x":8,"y":44},{"x":14,"y":42},
      {"x":-14,"y":40},{"x":-8,"y":38},{"x":-2,"y":39},{"x":4,"y":37},{"x":10,"y":40},{"x":17,"y":38},
      {"x":-16,"y":33},{"x":-11,"y":35},{"x":-5,"y":34},{"x":0,"y":32},{"x":6,"y":35},{"x":12,"y":33},{"x":19,"y":34},
      {"x":-18,"y":30},{"x":-13,"y":28},{"x":-8,"y":29},{"x":-3,"y":27},{"x":2,"y":30},{"x":8,"y":28},{"x":14,"y":29},{"x":21,"y":27},
      {"x":-20,"y":25},{"x":-15,"y":23},{"x":-10,"y":24},{"x":-5,"y":22},{"x":0,"y":25},{"x":5,"y":23},{"x":10,"y":24},{"x":16,"y":22},{"x":23,"y":25},
      {"x":-21,"y":18},{"x":-16,"y":20},{"x":-12,"y":19},{"x":-7,"y":17},{"x":-2,"y":20},{"x":3,"y":18},{"x":8,"y":19},{"x":13,"y":17},{"x":18,"y":20},{"x":25,"y":18},
      {"x":-19,"y":15},{"x":-14,"y":13},{"x":-9,"y":14},{"x":-4,"y":12},{"x":1,"y":15},{"x":6,"y":13},{"x":11,"y":14},{"x":16,"y":12},{"x":22,"y":15},
      {"x":-17,"y":8},{"x":-12,"y":10},{"x":-7,"y":9},{"x":-2,"y":7},{"x":3,"y":10},{"x":8,"y":8},{"x":13,"y":9},{"x":19,"y":7},{"x":26,"y":10},
      {"x":-15,"y":5},{"x":-10,"y":3},{"x":-5,"y":4},{"x":0,"y":2},{"x":5,"y":5},{"x":10,"y":3},{"x":15,"y":4},{"x":21,"y":2},
      {"x":-13,"y":0},{"x":-8,"y":-2},{"x":-3,"y":-1},{"x":2,"y":-3},{"x":7,"y":0},{"x":12,"y":-2},{"x":18,"y":-1},{"x":24,"y":-3},
      {"x":-11,"y":-5},{"x":-6,"y":-7},{"x":-1,"y":-6},{"x":4,"y":-8},{"x":9,"y":-5},{"x":14,"y":-7},{"x":20,"y":-6},
      {"x":-9,"y":-12},{"x":-4,"y":-10},{"x":1,"y":-11},{"x":6,"y":-13},{"x":11,"y":-10},{"x":17,"y":-12},{"x":23,"y":-11},
      {"x":-6,"y":-17},{"x":-1,"y":-15},{"x":4,"y":-16},{"x":9,"y":-18},{"x":15,"y":-15},{"x":21,"y":-17},
      {"x":-3,"y":-22},{"x":2,"y":-20},{"x":7,"y":-21},{"x":13,"y":-23},{"x":19,"y":-20},
      {"x":0,"y":-27},{"x":5,"y":-25},{"x":11,"y":-26},{"x":17,"y":-28},{"x":24,"y":-25},
      {"x":3,"y":-32},{"x":9,"y":-30},{"x":15,"y":-31},{"x":22,"y":-33},{"x":8,"y":-37},{"x":14,"y":-35},{"x":20,"y":-36},
      {"x":-7,"y":42},{"x":-1,"y":41},{"x":5,"y":43},{"x":11,"y":42},
      {"x":-11,"y":36},{"x":-5,"y":37},{"x":1,"y":36},{"x":7,"y":38},{"x":13,"y":36},
      {"x":-14,"y":31},{"x":-8,"y":32},{"x":-2,"y":30},{"x":4,"y":31},{"x":10,"y":32},{"x":16,"y":30},
      {"x":-17,"y":26},{"x":-12,"y":27},{"x":-7,"y":25},{"x":-2,"y":26},{"x":3,"y":27},{"x":8,"y":25},{"x":13,"y":26},{"x":19,"y":27},
      {"x":-18,"y":21},{"x":-13,"y":22},{"x":-8,"y":20},{"x":-3,"y":21},{"x":2,"y":22},{"x":7,"y":20},{"x":12,"y":21},{"x":18,"y":22},
      {"x":-17,"y":16},{"x":-12,"y":17},{"x":-7,"y":15},{"x":-2,"y":16},{"x":3,"y":17},{"x":8,"y":15},{"x":13,"y":16},{"x":19,"y":17},
      {"x":-15,"y":11},{"x":-10,"y":12},{"x":-5,"y":10},{"x":0,"y":11},{"x":5,"y":12},{"x":10,"y":10},{"x":16,"y":11},{"x":22,"y":12},
      {"x":-13,"y":6},{"x":-8,"y":7},{"x":-3,"y":5},{"x":2,"y":6},{"x":7,"y":7},{"x":12,"y":5},{"x":18,"y":6},
      {"x":-11,"y":1},{"x":-6,"y":2},{"x":-1,"y":0},{"x":4,"y":1},{"x":9,"y":2},{"x":15,"y":0},{"x":21,"y":1},
      {"x":-9,"y":-4},{"x":-4,"y":-3},{"x":1,"y":-5},{"x":6,"y":-4},{"x":11,"y":-3},{"x":17,"y":-5},
      {"x":-7,"y":-9},{"x":-2,"y":-8},{"x":3,"y":-10},{"x":8,"y":-9},{"x":14,"y":-8},{"x":20,"y":-10},
      {"x":-4,"y":-14},{"x":1,"y":-13},{"x":6,"y":-15},{"x":12,"y":-14},{"x":18,"y":-13},
      {"x":-1,"y":-19},{"x":4,"y":-18},{"x":10,"y":-20},{"x":16,"y":-19},
      {"x":2,"y":-24},{"x":8,"y":-23},{"x":14,"y":-25},{"x":20,"y":-24},
      {"x":6,"y":-29},{"x":12,"y":-28},{"x":19,"y":-30}
    ]
  },
  "hconcat": [
    {
      "width": 381,
      "height": 370,
      "title": {"text": "1981-1991", "subtitle": "\u200d\u00a0\u00a0\u00a0\u00a0\u00a0\u00a0\u00a0\u00a0\u00a0\u00a0\u00a0\u00a0\u00a0\u00a0\u00a0\u00a0\u00a0 (componente tendenziale = -10,14)", "anchor": "start", "frame": "group", "dx": -24, "offset": 20},
      "encoding": {
        "x": {"field": "x", "type": "quantitative", "title": null, "scale": {"domain": [-50, 200], "nice": false, "zero": false}, "axis": {"values": [-50, 0, 50, 100, 150, 200], "offset": -185, "labelExpr": "datum.value + ''"}},
        "y": {"field": "y", "type": "quantitative", "title": null, "scale": {"domain": [-200, 200], "nice": false, "zero": false}, "axis": {"values": [-200, -150, -100, -50, 0, 50, 100, 150, 200], "offset": -76.2, "labelExpr": "(datum.value < 0 ? '-' : '') + replace(format(abs(datum.value), '.1f'), '.', ',')"}}
      },
      "layer": [
        {"data": {"name": "lines1"}, "transform": [{"filter": "datum.s == 'fit'"}], "mark": {"type": "line", "color": "black", "strokeWidth": 1.2}},
        {"data": {"name": "lines1"}, "transform": [{"filter": "datum.s == 'trend'"}], "mark": {"type": "line", "color": "#ff0000", "strokeWidth": 1.5, "strokeDash": [9, 5]}},
        {"data": {"name": "p1"}, "mark": {"type": "point", "shape": "diamond", "filled": true, "size": 46, "color": "#000080", "opacity": 1}}
      ]
    },
    {
      "width": 394,
      "height": 370,
      "title": {"text": "1991-2001", "subtitle": "\u200d\u00a0\u00a0\u00a0\u00a0\u00a0\u00a0\u00a0\u00a0\u00a0\u00a0\u00a0\u00a0\u00a0\u00a0\u00a0\u00a0\u00a0 (componente tendenziale = 0,434)", "anchor": "start", "frame": "group", "dx": -4, "offset": 20},
      "encoding": {
        "x": {"field": "x", "type": "quantitative", "title": null, "scale": {"domain": [-50, 200], "nice": false, "zero": false}, "axis": {"values": [-50, 0, 50, 100, 150, 200], "offset": -185, "labelExpr": "datum.value + ''"}},
        "y": {"field": "y", "type": "quantitative", "title": null, "scale": {"domain": [-200, 200], "nice": false, "zero": false}, "axis": {"values": [-200, -150, -100, -50, 0, 50, 100, 150, 200], "offset": -78.8, "labelExpr": "(datum.value < 0 ? '-' : '') + replace(format(abs(datum.value), '.1f'), '.', ',')"}}
      },
      "layer": [
        {"data": {"name": "lines2"}, "transform": [{"filter": "datum.s == 'fit'"}], "mark": {"type": "line", "color": "black", "strokeWidth": 1.2}},
        {"data": {"name": "lines2"}, "transform": [{"filter": "datum.s == 'trend'"}], "mark": {"type": "line", "color": "#ff0000", "strokeWidth": 1.5, "strokeDash": [9, 5]}},
        {"data": {"name": "p2"}, "mark": {"type": "point", "shape": "diamond", "filled": true, "size": 46, "color": "#000080", "opacity": 1}}
      ]
    },
    {
      "width": 361,
      "height": 370,
      "title": {"text": "1981-2001", "subtitle": "\u200d\u00a0\u00a0\u00a0\u00a0\u00a0\u00a0\u00a0\u00a0\u00a0\u00a0\u00a0\u00a0\u00a0\u00a0\u00a0\u00a0\u00a0 (componente tendenziale = -9,75)", "anchor": "start", "frame": "group", "dx": 1, "offset": 20},
      "encoding": {
        "x": {"field": "x", "type": "quantitative", "title": null, "scale": {"domain": [-50, 184], "nice": false, "zero": false}, "axis": {"values": [-50, 0, 50, 100, 150], "offset": -185, "labelExpr": "datum.value + ''"}},
        "y": {"field": "y", "type": "quantitative", "title": null, "scale": {"domain": [-200, 200], "nice": false, "zero": false}, "axis": {"values": [-200, -150, -100, -50, 0, 50, 100, 150, 200], "offset": -77.1, "labelExpr": "(datum.value < 0 ? '-' : '') + replace(format(abs(datum.value), '.1f'), '.', ',')"}}
      },
      "layer": [
        {"data": {"name": "lines3"}, "transform": [{"filter": "datum.s == 'fit'"}], "mark": {"type": "line", "color": "black", "strokeWidth": 1.2}},
        {"data": {"name": "lines3"}, "transform": [{"filter": "datum.s == 'trend'"}], "mark": {"type": "line", "color": "#ff0000", "strokeWidth": 1.5, "strokeDash": [9, 5]}},
        {"data": {"name": "p3"}, "mark": {"type": "point", "shape": "diamond", "filled": true, "size": 46, "color": "#000080", "opacity": 1, "clip": true}}
      ]
    }
  ]
}
